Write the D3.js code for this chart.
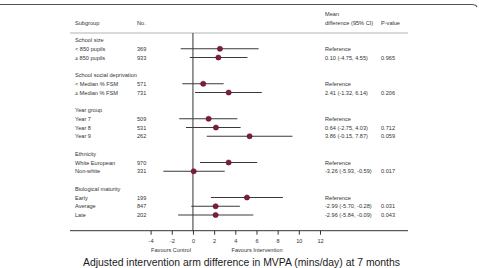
<!DOCTYPE html>
<html>
<head>
<meta charset="utf-8">
<script src="https://cdn.jsdelivr.net/npm/d3@7"></script>
<style>
  body { margin: 0; background: #fff; }
  svg { display: block; font-family: "Liberation Sans", Arial, sans-serif; }
</style>
</head>
<body>
<div id="vis"></div>
<script>
// group headers and subgroup rows
const groupNames = ["School size", "School social deprivation", "Year group", "Ethnicity", "Biological maturity"];
const groupOf   = [0, 0, 1, 1, 2, 2, 2, 3, 3, 4, 4, 4];
const labels    = ["< 850 pupils", "\u2265 850 pupils", "< Median % FSM", "\u2265 Median % FSM",
                   "Year 7", "Year 8", "Year 9", "White European", "Non-white", "Early", "Average", "Late"];
const counts    = ["369", "933", "571", "731", "509", "531", "262", "970", "331", "199", "847", "202"];
// point estimates and CI
const est   = [2.55, 2.4, 0.97, 3.37, 1.48, 2.17, 5.35, 3.37, 0.07, 5.1, 2.14, 2.14];
const lower = [-1.16, -0.3, -1.0, 0.2, -1.3, -0.66, 1.3, 0.66, -2.8, 1.7, -0.16, -1.4];
const upper = [6.2, 5.15, 2.9, 6.5, 4.2, 4.5, 9.4, 6.07, 3.0, 8.5, 4.43, 5.7];
const diffText = ["Reference", "0.10 (-4.75, 4.55)", "Reference", "2.41 (-1.32, 6.14)",
                  "Reference", "0.64 (-2.75, 4.03)", "3.86 (-0.15, 7.87)",
                  "Reference", "-3.26 (-5.93, -0.59)",
                  "Reference", "-2.99 (-5.70, -0.28)", "-2.96 (-5.84, -0.09)"];
const pText = ["", "0.965", "", "0.206", "", "0.712", "0.059", "", "0.017", "", "0.031", "0.043"];
const tickVals = [-4, -2, 0, 2, 4, 6, 8, 10, 12];

const W = 479, H = 268;
const svg = d3.select("#vis").append("svg").attr("width", W).attr("height", H);

// work out row index for every line of the table
let r = 0;
const headerRow = [], rowIdx = [];
groupNames.forEach((g, gi) => {
  headerRow.push(r); r++;
  groupOf.forEach((gg, i) => { if (gg === gi) { rowIdx[i] = r; r++; } });
  r++; // blank line
});

const x = d3.scaleLinear().domain([-4, 12]).range([150.6, 320]);
const y = d3.scaleLinear().domain([0, 20]).range([40, 215]);

const fs = 5.6, txt = "#333";

// frame line at the top
svg.append("path")
  .attr("d", "M0,4.5 L472,4.5 Q476,4.5 477,7")
  .attr("fill", "none").attr("stroke", "#555").attr("stroke-width", 1.2);

// header
const hdr = svg.append("g").attr("font-size", fs).attr("fill", txt);
hdr.append("text").attr("x", 75).attr("y", 25).text("Subgroup");
hdr.append("text").attr("x", 137).attr("y", 25).text("No.");
hdr.append("text").attr("x", 325).attr("y", 15.5).text("Mean");
hdr.append("text").attr("x", 325).attr("y", 25).text("difference (95% CI)");
hdr.append("text").attr("x", 381).attr("y", 25).text("P-value");

svg.append("line").attr("x1", 70).attr("x2", 408).attr("y1", 33).attr("y2", 33)
  .attr("stroke", "#ccc").attr("stroke-width", 1.3);

// left & right text columns
const tbl = svg.append("g").attr("font-size", fs).attr("fill", txt);
tbl.selectAll(".grp").data(groupNames).join("text")
  .attr("x", 75).attr("y", (d, i) => y(headerRow[i]) + 2).text(d => d);
tbl.selectAll(".lab").data(labels).join("text")
  .attr("x", 75).attr("y", (d, i) => y(rowIdx[i]) + 2).text(d => d);
tbl.selectAll(".cnt").data(counts).join("text")
  .attr("x", 137).attr("y", (d, i) => y(rowIdx[i]) + 2).text(d => d);
tbl.selectAll(".dif").data(diffText).join("text")
  .attr("x", 325).attr("y", (d, i) => y(rowIdx[i]) + 2).text(d => d);
tbl.selectAll(".pv").data(pText).join("text")
  .attr("x", 381).attr("y", (d, i) => y(rowIdx[i]) + 2).text(d => d);

// zero line
svg.append("line").attr("x1", x(0)).attr("x2", x(0)).attr("y1", 33).attr("y2", 230.7)
  .attr("stroke", "#333").attr("stroke-width", 1);

// confidence intervals
const plot = svg.append("g");
plot.selectAll("line.ci").data(est).join("line")
  .attr("class", "ci")
  .attr("x1", (d, i) => x(lower[i])).attr("x2", (d, i) => x(upper[i]))
  .attr("y1", (d, i) => y(rowIdx[i])).attr("y2", (d, i) => y(rowIdx[i]))
  .attr("stroke", "#3a3a3a").attr("stroke-width", 1.2);
plot.selectAll("circle").data(est).join("circle")
  .attr("cx", d => x(d)).attr("cy", (d, i) => y(rowIdx[i]))
  .attr("r", 2.6).attr("fill", "#841a3a").attr("stroke", "#4a0c1e").attr("stroke-width", 0.5);

// x axis
svg.append("line").attr("x1", 70).attr("x2", 408).attr("y1", 230.7).attr("y2", 230.7)
  .attr("stroke", "#333").attr("stroke-width", 1);
const ax = svg.append("g").attr("transform", "translate(0,230.7)")
  .call(d3.axisBottom(x).tickValues(tickVals).tickSize(4).tickPadding(4).tickFormat(d => String(d)));
ax.select(".domain").remove();
ax.selectAll(".tick line").attr("stroke", "#333");
ax.selectAll(".tick text").attr("font-size", fs).attr("fill", txt)
  .attr("font-family", "Liberation Sans, Arial, sans-serif");

svg.append("text").attr("x", 171).attr("y", 252).attr("text-anchor", "middle")
  .attr("font-size", fs).attr("fill", txt).text("Favours Control");
svg.append("text").attr("x", 257).attr("y", 252).attr("text-anchor", "middle")
  .attr("font-size", fs).attr("fill", txt).text("Favours Intervention");

svg.append("text").attr("x", 83).attr("y", 266)
  .attr("font-size", 10.5).attr("fill", "#1a1a1a")
  .attr("textLength", 317).attr("lengthAdjust", "spacingAndGlyphs")
  .text("Adjusted intervention arm difference in  MVPA (mins/day) at 7 months");
</script>
</body>
</html>
